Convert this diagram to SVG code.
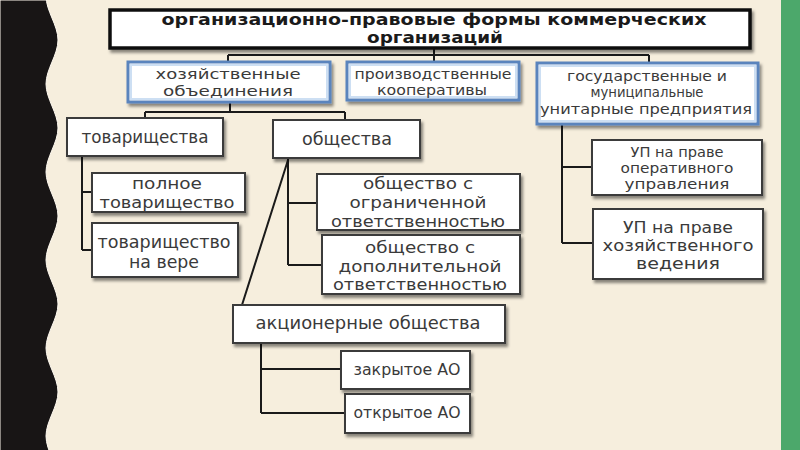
<svg xmlns="http://www.w3.org/2000/svg" width="800" height="450" viewBox="0 0 800 450">
<defs>
<filter id="sh" x="-10%" y="-20%" width="125%" height="150%">
<feDropShadow dx="2" dy="3" stdDeviation="1.6" flood-color="#000" flood-opacity="0.45"/>
</filter>
<style>
.bg{fill:#f6eedd}
.box{fill:#fff;stroke:#3a3a3a;stroke-width:2;filter:url(#sh)}
.top{fill:#fff;stroke:#111;stroke-width:3.5;filter:url(#sh)}
.blue{fill:#fff;stroke:#5a84bd;stroke-width:3;filter:url(#sh)}
.inner{fill:none;stroke:#cddff3;stroke-width:2}
.t{font-family:"DejaVu Sans","Noto Sans",sans-serif;fill:#3a3a3a;text-anchor:middle}
.tt{font-family:"DejaVu Sans","Noto Sans",sans-serif;fill:#1a1a1a;text-anchor:middle;font-weight:bold;font-size:15px}
.c{fill:none;stroke:#1a1a1a;stroke-width:2}
</style>
</defs>
<rect class="bg" x="0" y="0" width="800" height="450"/>
<path d="M0,0 H46 V-4 C46,11 58,25 58,40 S46,69 46,84 S58,113 58,128 S46,157 46,172 S58,201 58,216 S46,245 46,260 S58,289 58,304 S46,333 46,348 S58,377 58,392 S46,421 46,436 S58,465 58,480 H0 Z" fill="#181515" stroke="#fffaf0" stroke-width="1"/>
<rect x="781" y="0" width="19" height="450" fill="#4ca86b"/>

<g id="connectors">
<path class="c" d="M434,48 V55 M228,55 H649 M228,55 V62 M434,55 V62 M649,55 V62"/>
<path class="c" d="M230,102 V112 M145,112 H345 M145,112 V118 M345,112 V120"/>
<path class="c" d="M82,156 V250 M82,192 H92 M82,250 H92"/>
<path class="c" d="M288,158 V265 M288,203 H317 M288,265 H322 M288,160 L242,305"/>
<path class="c" d="M261,343 V413 M261,369 H341 M261,413 H345"/>
<path class="c" d="M562,124 V243 M562,167 H592 M562,243 H593"/>
</g>

<g id="root">
<rect class="top" x="110" y="10" width="640" height="38"/>
<text class="tt" x="434" y="25" textLength="545" lengthAdjust="spacingAndGlyphs">организационно-правовые формы коммерческих</text>
<text class="tt" x="435" y="43" textLength="136" lengthAdjust="spacingAndGlyphs">организаций</text>
</g>

<g id="hoz">
<rect class="blue" x="128" y="62" width="202" height="40"/>
<rect class="inner" x="131" y="65" width="196" height="34"/>
<text class="t" font-size="14.5" x="228" y="79" textLength="145" lengthAdjust="spacingAndGlyphs">хозяйственные</text>
<text class="t" font-size="14.5" x="228" y="96" textLength="130" lengthAdjust="spacingAndGlyphs">объединения</text>
</g>

<g id="proizv">
<rect class="blue" x="347" y="62" width="172" height="38"/>
<rect class="inner" x="350" y="65" width="166" height="32"/>
<text class="t" font-size="13.5" x="433" y="79" textLength="157" lengthAdjust="spacingAndGlyphs">производственные</text>
<text class="t" font-size="13.5" x="432" y="95" textLength="110" lengthAdjust="spacingAndGlyphs">кооперативы</text>
</g>

<g id="gos">
<rect class="blue" x="537" y="63" width="221" height="61"/>
<rect class="inner" x="540" y="66" width="215" height="55"/>
<text class="t" font-size="14" x="647" y="80.5" textLength="160" lengthAdjust="spacingAndGlyphs">государственные и</text>
<text class="t" font-size="14" x="647" y="97" textLength="113" lengthAdjust="spacingAndGlyphs">муниципальные</text>
<text class="t" font-size="14" x="646" y="113.5" textLength="212" lengthAdjust="spacingAndGlyphs">унитарные предприятия</text>
</g>

<g id="tov">
<rect class="box" x="67" y="118" width="156" height="38"/>
<text class="t" font-size="17" x="145" y="143" textLength="127" lengthAdjust="spacingAndGlyphs">товарищества</text>
</g>

<g id="obsh">
<rect class="box" x="273" y="120" width="147" height="38"/>
<text class="t" font-size="17" x="347" y="145" textLength="90" lengthAdjust="spacingAndGlyphs">общества</text>
</g>

<g id="polnoe">
<rect class="box" x="92" y="173" width="153" height="39"/>
<text class="t" font-size="16" x="167" y="189" textLength="70" lengthAdjust="spacingAndGlyphs">полное</text>
<text class="t" font-size="16" x="167" y="208" textLength="135" lengthAdjust="spacingAndGlyphs">товарищество</text>
</g>

<g id="navere">
<rect class="box" x="92" y="223" width="146" height="54"/>
<text class="t" font-size="17" x="164" y="248" textLength="133" lengthAdjust="spacingAndGlyphs">товарищество</text>
<text class="t" font-size="17" x="164" y="268" textLength="70" lengthAdjust="spacingAndGlyphs">на вере</text>
</g>

<g id="ooo">
<rect class="box" x="317" y="174" width="203" height="56"/>
<text class="t" font-size="16" x="418" y="189" textLength="110" lengthAdjust="spacingAndGlyphs">общество с</text>
<text class="t" font-size="16" x="418" y="208" textLength="137" lengthAdjust="spacingAndGlyphs">ограниченной</text>
<text class="t" font-size="16" x="418" y="227" textLength="174" lengthAdjust="spacingAndGlyphs">ответственностью</text>
</g>

<g id="odo">
<rect class="box" x="322" y="235" width="198" height="59"/>
<text class="t" font-size="15.8" x="420" y="253" textLength="110" lengthAdjust="spacingAndGlyphs">общество с</text>
<text class="t" font-size="15.8" x="420" y="271.5" textLength="163" lengthAdjust="spacingAndGlyphs">дополнительной</text>
<text class="t" font-size="15.8" x="420" y="290" textLength="174" lengthAdjust="spacingAndGlyphs">ответственностью</text>
</g>

<g id="ao">
<rect class="box" x="233" y="305" width="272" height="38"/>
<text class="t" font-size="17" x="368" y="329" textLength="225" lengthAdjust="spacingAndGlyphs">акционерные общества</text>
</g>

<g id="zao">
<rect class="box" x="341" y="351" width="129" height="38"/>
<text class="t" font-size="15" x="407" y="375" textLength="107" lengthAdjust="spacingAndGlyphs">закрытое АО</text>
</g>

<g id="oao">
<rect class="box" x="345" y="394" width="125" height="39"/>
<text class="t" font-size="15" x="407" y="418" textLength="107" lengthAdjust="spacingAndGlyphs">открытое АО</text>
</g>

<g id="up1">
<rect class="box" x="592" y="140" width="170" height="55"/>
<text class="t" font-size="13.5" x="677" y="157" textLength="93" lengthAdjust="spacingAndGlyphs">УП на праве</text>
<text class="t" font-size="13.5" x="677" y="173" textLength="113" lengthAdjust="spacingAndGlyphs">оперативного</text>
<text class="t" font-size="13.5" x="677" y="189" textLength="105" lengthAdjust="spacingAndGlyphs">управления</text>
</g>

<g id="up2">
<rect class="box" x="593" y="209" width="170" height="70"/>
<text class="t" font-size="15.4" x="678" y="233" textLength="110" lengthAdjust="spacingAndGlyphs">УП на праве</text>
<text class="t" font-size="15.4" x="678" y="251" textLength="151" lengthAdjust="spacingAndGlyphs">хозяйственного</text>
<text class="t" font-size="15.4" x="678" y="269" textLength="84" lengthAdjust="spacingAndGlyphs">ведения</text>
</g>
</svg>
